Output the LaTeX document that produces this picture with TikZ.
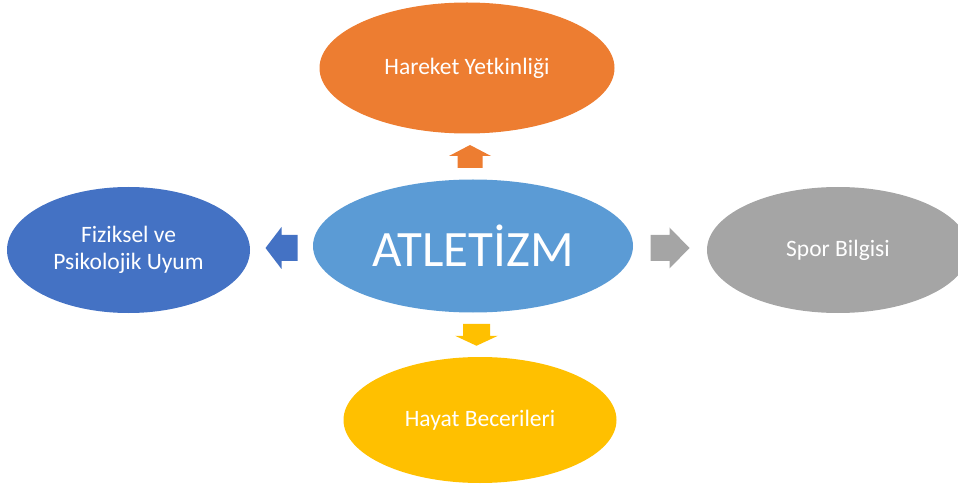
\documentclass[tikz,border=0pt]{standalone}
\usepackage{fontspec}
\setmainfont{Carlito}
\usetikzlibrary{calc}
\usetikzlibrary{shapes.geometric}

\definecolor{atletblue}{HTML}{5B9BD5}
\definecolor{hareketorange}{HTML}{ED7D31}
\definecolor{uyumblue}{HTML}{4472C4}
\definecolor{sporgray}{HTML}{A5A5A5}
\definecolor{hayatgold}{HTML}{FFC000}

\tikzset{
  blob/.style={ellipse, draw=none, inner sep=0pt, text=white, align=center,
    font=\fontsize{23.5}{27}\selectfont}
}

\begin{document}
\begin{tikzpicture} [x=1pt, y=-1pt]

\useasboundingbox (0,0) rectangle (958,486);
\clip (0,0) rectangle (958,486);

\node[blob, fill=atletblue, minimum width=320, minimum height=133,
  font=\fontsize{51}{60}\selectfont] (atletizm) at (473,246) {ATLETİZM};
\node[blob, fill=hareketorange, minimum width=295, minimum height=131] (hareket) at (467,68) {Hareket Yetkinliği};
\node[blob, fill=uyumblue, minimum width=243, minimum height=126] (uyum) at (128.5,250) {Fiziksel ve\\Psikolojik Uyum};
\node[blob, fill=sporgray, minimum width=262, minimum height=126] (spor) at (838,250) {Spor Bilgisi};
\node[blob, fill=hayatgold, minimum width=273, minimum height=126] (hayat) at (480,420) {Hayat Becerileri};

% block arrows halfway between the centre and the outer ellipses
\coordinate (upmid) at ($(atletizm.north)!0.5!(hareket.south)$);
\coordinate (leftmid) at ($(atletizm.west)!0.5!(uyum.east)$);
\coordinate (rightmid) at ($(atletizm.east)!0.5!(spor.west)$);
\coordinate (downmid) at ($(atletizm.south)!0.5!(hayat.north)$);

\fill[hareketorange] (upmid) ++(-12.5,11.5) -- ++(0,-12) -- ++(-8.5,0) -- ++(21,-11)
  -- ++(21,11) -- ++(-8.5,0) -- ++(0,12) -- cycle;
\fill[uyumblue] (leftmid) ++(16,-13) -- ++(-16,0) -- ++(0,-8) -- ++(-16,21)
  -- ++(16,21) -- ++(0,-8) -- ++(16,0) -- cycle;
\fill[sporgray] (rightmid) ++(-19.5,-13) -- ++(19,0) -- ++(0,-7.5) -- ++(20,20.5)
  -- ++(-20,20.5) -- ++(0,-7.5) -- ++(-19,0) -- cycle;
\fill[hayatgold] (downmid) ++(-13.5,-11) -- ++(0,12) -- ++(-8,0) -- ++(21.5,10)
  -- ++(21.5,-10) -- ++(-8,0) -- ++(0,-12) -- cycle;

\end{tikzpicture}
\end{document}
